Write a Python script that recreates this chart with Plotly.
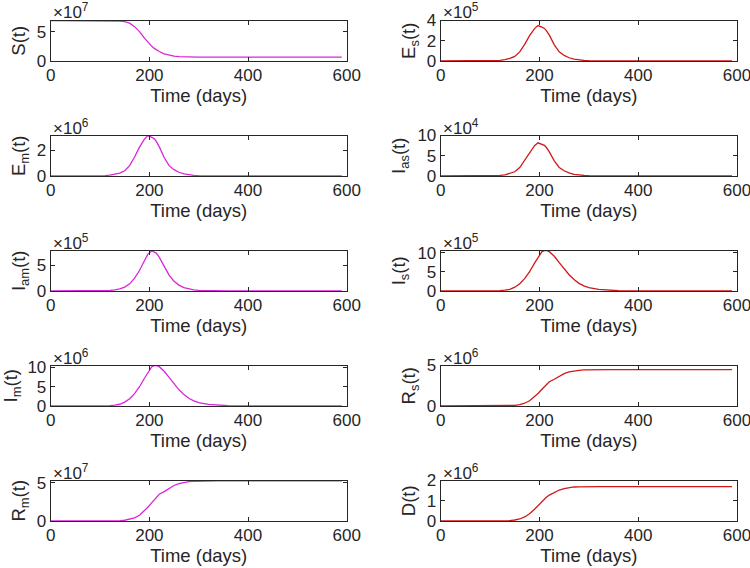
import plotly.graph_objects as go

# ---------------- data ----------------
t = [0, 50, 100, 110, 120, 130, 140, 150, 160, 170, 180, 190, 197, 205, 210, 214, 220,
     230, 240, 250, 260, 270, 280, 290, 300, 320, 340, 360, 400, 450, 500, 550, 590]

S = [6.9, 6.9, 6.89, 6.88, 6.86, 6.83, 6.78, 6.7, 6.45, 5.85, 5.0, 3.9, 3.15, 2.5, 2.15, 1.92, 1.62,
     1.22, 0.97, 0.83, 0.75, 0.71, 0.68, 0.67, 0.66, 0.65, 0.65, 0.65, 0.65, 0.65, 0.65, 0.65, 0.65]   # x1e7
E_s = [0, 0, 0.02, 0.04, 0.07, 0.13, 0.25, 0.45, 0.9, 1.65, 2.5, 3.2, 3.5, 3.35, 3.22, 3.0, 2.55,
       1.6, 0.9, 0.55, 0.32, 0.18, 0.1, 0.06, 0.035, 0.012, 0.004, 0.001, 0, 0, 0, 0, 0]           # x1e5
E_m = [0, 0, 0.02, 0.035, 0.06, 0.12, 0.22, 0.4, 0.8, 1.47, 2.23, 2.85, 3.12, 2.99, 2.87, 2.67, 2.27,
       1.43, 0.8, 0.49, 0.29, 0.16, 0.09, 0.053, 0.031, 0.011, 0.004, 0.001, 0, 0, 0, 0, 0]         # x1e6
I_as = [0, 0, 0.05, 0.09, 0.16, 0.3, 0.59, 1.05, 2.1, 3.87, 5.86, 7.5, 8.2, 7.85, 7.55, 7.03, 5.97,
        3.75, 2.11, 1.29, 0.75, 0.42, 0.23, 0.14, 0.08, 0.03, 0.01, 0.002, 0, 0, 0, 0, 0]           # x1e4
I_am = [0, 0, 0.03, 0.06, 0.11, 0.2, 0.4, 0.75, 1.4, 2.5, 4.0, 5.9, 7.2, 7.8, 7.65, 7.4, 6.6,
        4.8, 3.1, 1.9, 1.15, 0.68, 0.4, 0.23, 0.14, 0.05, 0.018, 0.006, 0, 0, 0, 0, 0]              # x1e5
I_s = [0, 0, 0.03, 0.06, 0.12, 0.22, 0.45, 1.0, 1.9, 3.25, 5.05, 7.3, 8.8, 10.3, 10.55, 10.6, 10.3,
       9.1, 7.45, 5.75, 4.25, 3.0, 2.0, 1.36, 0.9, 0.4, 0.18, 0.08, 0.015, 0.002, 0, 0, 0]          # x1e5
I_m = [0, 0, 0.03, 0.06, 0.12, 0.22, 0.45, 1.0, 1.9, 3.2, 5.0, 7.2, 8.7, 10.2, 10.45, 10.5, 10.2,
       9.0, 7.4, 5.7, 4.2, 2.95, 2.0, 1.35, 0.9, 0.4, 0.18, 0.08, 0.015, 0.002, 0, 0, 0]            # x1e6
R_s = [0, 0, 0, 0.004, 0.009, 0.017, 0.043, 0.086, 0.17, 0.34, 0.64, 1.11, 1.54, 2.06, 2.4, 2.66, 3.0,
       3.3, 3.69, 3.99, 4.2, 4.33, 4.41, 4.45, 4.47, 4.49, 4.5, 4.5, 4.5, 4.5, 4.5, 4.5, 4.5]        # x1e6
R_m = [0, 0, 0, 0.005, 0.01, 0.02, 0.05, 0.1, 0.2, 0.4, 0.75, 1.3, 1.8, 2.4, 2.8, 3.1, 3.5,
       3.85, 4.3, 4.65, 4.9, 5.05, 5.14, 5.19, 5.22, 5.24, 5.25, 5.25, 5.25, 5.25, 5.25, 5.25, 5.25]  # x1e7
D = [0, 0, 0, 0.002, 0.004, 0.008, 0.018, 0.05, 0.1, 0.2, 0.36, 0.58, 0.76, 0.97, 1.08, 1.17, 1.28,
     1.42, 1.53, 1.6, 1.65, 1.68, 1.69, 1.7, 1.7, 1.7, 1.7, 1.7, 1.7, 1.7, 1.7, 1.7, 1.7]           # x1e6

x_ticks = [0, 200, 400, 600]
x_label = "Time (days)"

# panels: (values, exponent, y-label, y max, y ticks (scaled), column, row)
panels = [
    (S,    7, "S(t)",                    6.9,  [0, 5],      0, 0),
    (E_m,  6, "E<sub>m</sub>(t)",        3.13, [0, 2],      0, 1),
    (I_am, 5, "I<sub>am</sub>(t)",       7.9,  [0, 5],      0, 2),
    (I_m,  6, "I<sub>m</sub>(t)",        10.5, [0, 5, 10],  0, 3),
    (R_m,  7, "R<sub>m</sub>(t)",        5.3,  [0, 5],      0, 4),
    (E_s,  5, "E<sub>s</sub>(t)",        4.0,  [0, 2, 4],   1, 0),
    (I_as, 4, "I<sub>as</sub>(t)",       10.0, [0, 5, 10],  1, 1),
    (I_s,  5, "I<sub>s</sub>(t)",        10.6, [0, 5, 10],  1, 2),
    (R_s,  6, "R<sub>s</sub>(t)",        5.0,  [0, 5],      1, 3),
    (D,    6, "D(t)",                    2.0,  [0, 1, 2],   1, 4),
]

# ---------------- layout geometry ----------------
W, H = 750, 568
col_px = [(50.7, 346.7), (440.7, 737.0)]
row_top = [20.5, 135.5, 250.5, 365.5, 480.5]
box_h = 40.5
colors = ["#d926d9", "#d01818"]
axcol = "#262626"
FONT = "Liberation Sans, Arial, Helvetica, sans-serif"

fig = go.Figure()
layout = dict(template="none", width=W, height=H, margin=dict(l=0, r=0, t=0, b=0, pad=0),
              autosize=False,
              paper_bgcolor="white", plot_bgcolor="white", showlegend=False,
              font=dict(family=FONT, color=axcol))
annotations = []

for i, (vals, ex, ylab, ymax, yt, c, r) in enumerate(panels):
    n = i + 1
    xa = "xaxis" if n == 1 else f"xaxis{n}"
    ya = "yaxis" if n == 1 else f"yaxis{n}"
    xr = "x" if n == 1 else f"x{n}"
    yr = "y" if n == 1 else f"y{n}"
    scale = 10 ** ex
    fig.add_trace(go.Scatter(x=t, y=[v * scale for v in vals], mode="lines",
                             line=dict(color=colors[c], width=1.3),
                             xaxis=xr, yaxis=yr, hoverinfo="skip"))
    x0, x1 = col_px[c]
    y0 = 1 - (row_top[r] + box_h) / H
    y1 = 1 - row_top[r] / H
    layout[xa] = dict(domain=[x0 / W, x1 / W], range=[0, 600], anchor=yr, automargin=False,
                      tickvals=x_ticks, ticks="inside", ticklen=4, tickcolor=axcol,
                      showline=True, linecolor=axcol, linewidth=1, mirror="ticks",
                      showgrid=False, zeroline=False, ticklabelstandoff=-1,
                      ticklabeloverflow="allow",
                      tickfont=dict(size=17, family=FONT, color=axcol),
                      title=dict(text=x_label, font=dict(size=18.5, family=FONT, color=axcol),
                                 standoff=1))
    layout[ya] = dict(domain=[y0, y1], range=[0, ymax * scale], anchor=xr, automargin=False,
                      tickvals=[v * scale for v in yt], ticktext=[str(v) for v in yt],
                      ticks="inside", ticklen=4, tickcolor=axcol,
                      showline=True, linecolor=axcol, linewidth=1, mirror="ticks",
                      showgrid=False, zeroline=False,
                      tickfont=dict(size=17, family=FONT, color=axcol),
                      title=dict(text=ylab, font=dict(size=18.5, family=FONT, color=axcol),
                                 standoff=6))
    annotations.append(dict(x=x0 / W, y=y1, xref="paper", yref="paper",
                            xanchor="left", yanchor="bottom", showarrow=False,
                            text=f"×10<sup>{ex}</sup>", yshift=-4,
                            font=dict(size=17, family=FONT, color=axcol)))

layout["annotations"] = annotations
fig.update_layout(**layout)
fig.write_html("out.html", config={"displayModeBar": False},
               post_script="document.body.style.margin='0';document.body.style.overflow='hidden';")
